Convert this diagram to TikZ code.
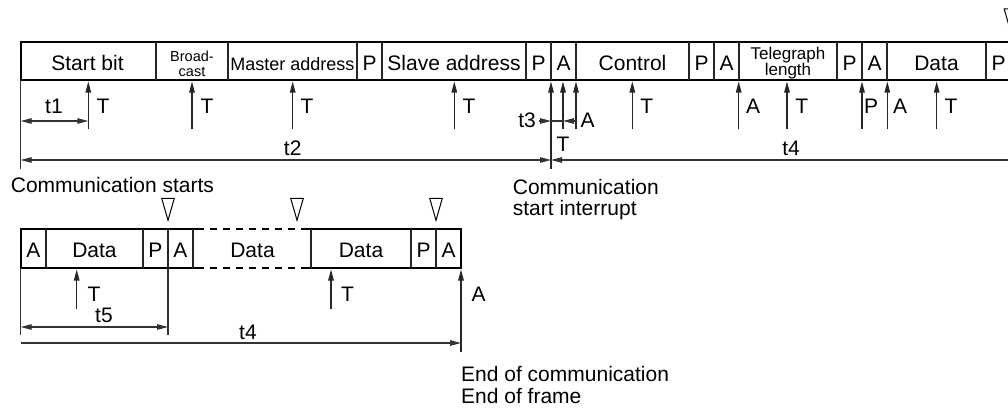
\documentclass[tikz,border=0pt]{standalone}
\usepackage{fontspec}
\setmainfont{Liberation Sans}
\usetikzlibrary{arrows.meta}
\tikzset{
  frameline/.style={line width=2.4pt, black},
  divline/.style={line width=1.1pt, black!85},
  dimline/.style={line width=1.1pt, black!80},
  uparr/.style={line width=1.1pt, black!85, -{Triangle[length=11pt,width=5.5pt]}},
  hd/.style={-{Triangle[length=11pt,width=5.5pt]}},
  hdboth/.style={{Triangle[length=11pt,width=5.5pt]}-{Triangle[length=11pt,width=5.5pt]}},
  lbl/.style={anchor=base, inner sep=0pt, font=\fontsize{21}{24}\selectfont},
  txt/.style={anchor=base west, inner sep=0pt, font=\fontsize{21}{24}\selectfont},
  tri/.style={draw, line width=1pt, line join=miter}
}
\newcommand\downtri[2]{\draw[tri] (#1-6.3,#2) -- (#1+6.3,#2) -- (#1,#2+22) -- cycle;}
\begin{document}
\begin{tikzpicture}[x=1pt,y=-1pt]
\useasboundingbox (0,0) rectangle (1008,412);
\clip (0,0) rectangle (1008,412);

% ---------- top frame ----------
\draw[frameline] (1030,42) -- (20.7,42) -- (20.7,80) -- (1030,80);
\foreach \x in {156,228,357,382,526,551,576,689,714,739,837,862,887,986}
  \draw[divline] (\x,42) -- (\x,80);
\downtri{1010.5}{9}

\node[lbl] (startbit) at (87.5,70.5) {Start bit};
\node[lbl,font=\fontsize{14.5}{16}\selectfont] (broad) at (192,61) {Broad-};
\node[lbl,font=\fontsize{14.5}{16}\selectfont] (cast) at (192,76) {cast};
\node[lbl,font=\fontsize{18}{20}\selectfont] (master) at (292.5,70.5) {Master address};
\node[lbl] (p1) at (369.5,70.5) {P};
\node[lbl] (slave) at (454,70.5) {Slave address};
\node[lbl] (p2) at (538.5,70.5) {P};
\node[lbl] (a2) at (563.5,70.5) {A};
\node[lbl] (control) at (632.5,70.5) {Control};
\node[lbl] (p3) at (701.5,70.5) {P};
\node[lbl] (a3) at (726.5,70.5) {A};
\node[lbl,font=\fontsize{17}{19}\selectfont] (teleg) at (788,59.5) {Telegraph};
\node[lbl,font=\fontsize{17}{19}\selectfont] (tlen) at (788,75) {length};
\node[lbl] (p4) at (849.5,70.5) {P};
\node[lbl] (a4) at (874.5,70.5) {A};
\node[lbl] (data1) at (936.5,70.5) {Data};
\node[lbl] (p5) at (998.5,70.5) {P};

% arrows under the top frame
\foreach \x/\n/\l/\lx in {88.3/a/T/103, 192/b/T/207, 292.7/c/T/307, 454.3/d/T/469,
    632.3/e/T/646.7, 738.7/f/A/753, 787/g/T/801.7, 862/h/P/871, 887.3/i/A/900, 936.7/j/T/951}{
  \coordinate (tb\n) at (\x,129);
  \coordinate (tt\n) at (\x,81.5);
  \draw[uparr] (tb\n) -- (tt\n);
  \node[lbl] (tl\n) at (\lx,113.3) {\l};
}
\coordinate (tbk) at (563,129);  \coordinate (ttk) at (563,81.5);
\coordinate (tbl) at (576,129);  \coordinate (ttl) at (576,81.5);
\coordinate (tbm) at (551,169);  \coordinate (ttm) at (551,81.5);
\draw[uparr] (tbk) -- (ttk);
\draw[uparr] (tbl) -- (ttl);
\draw[uparr] (tbm) -- (ttm);
\coordinate (l0) at (20.7,80);
\coordinate (l0b) at (20.7,169);
\draw[dimline] (l0) -- (l0b);

% t1
\coordinate (t1a) at (20.7,121);
\coordinate (t1b) at (88.3,121);
\draw[dimline,hdboth] (t1a) -- (t1b);
\node[lbl] (t1) at (54,113.3) {t1};

% t3
\coordinate (t3a) at (539,121);
\coordinate (t3b) at (551,121);
\coordinate (t3c) at (563,121);
\coordinate (t3d) at (573.5,121);
\draw[dimline,hd] (t3a) -- (t3b);
\draw[dimline] (t3b) -- (t3c);
\draw[dimline,hd] (t3d) -- (t3c);
\node[lbl] (t3) at (527,127.3) {t3};
\node[lbl] (a3lbl) at (587.5,127.3) {A};
\node[lbl] (t3t) at (563,151) {T};

% t2 / t4
\coordinate (t2a) at (20.7,160);
\coordinate (t2b) at (551,160);
\coordinate (t4e) at (1030,160);
\draw[dimline,hdboth] (t2a) -- (t2b);
\draw[dimline,hd] (t4e) -- (t2b);
\node[lbl] (t2) at (292.7,155) {t2};
\node[lbl] (t4top) at (791,155) {t4};

\node[txt] (cstart) at (10.7,192) {Communication starts};
\node[txt] (cint1) at (512.7,194) {Communication};
\node[txt] (cint2) at (512.7,215.5) {start interrupt};

% ---------- bottom frame ----------
\draw[frameline] (203.5,229) -- (20.7,229) -- (20.7,268) -- (203.5,268);
\draw[frameline,dash pattern=on 6.5pt off 6.5pt,dash phase=6.5pt] (203.5,229) -- (301,229);
\draw[frameline,dash pattern=on 6.5pt off 6.5pt,dash phase=6.5pt] (203.5,268) -- (301,268);
\draw[frameline] (301,229) -- (461,229) -- (461,268) -- (301,268);
\foreach \x in {46,143,168,193,311,411,436}
  \draw[divline] (\x,229) -- (\x,268);
\downtri{168}{198.3}
\downtri{297}{198.3}
\downtri{436}{198.3}

\node[lbl] (ba1) at (33.3,257) {A};
\node[lbl] (bd1) at (94.5,257) {Data};
\node[lbl] (bp1) at (155.5,257) {P};
\node[lbl] (ba2) at (180.5,257) {A};
\node[lbl] (bd2) at (252.5,257) {Data};
\node[lbl] (bd3) at (361,257) {Data};
\node[lbl] (bp2) at (423.5,257) {P};
\node[lbl] (ba3) at (448.5,257) {A};

\coordinate (bt1b) at (76.7,309);  \coordinate (bt1t) at (76.7,269.5);
\coordinate (bt2b) at (331,309);   \coordinate (bt2t) at (331,269.5);
\coordinate (bt3b) at (461,352);   \coordinate (bt3t) at (461,269.5);
\draw[uparr] (bt1b) -- (bt1t);
\draw[uparr] (bt2b) -- (bt2t);
\draw[uparr] (bt3b) -- (bt3t);
\node[lbl] (btl1) at (94,301) {T};
\node[lbl] (btl2) at (347.5,301) {T};
\node[lbl] (btl3) at (478.5,301) {A};

\coordinate (bl0) at (20.7,268);  \coordinate (bl0b) at (20.7,335);
\coordinate (bl1) at (168,268);   \coordinate (bl1b) at (168,335);
\draw[dimline] (bl0) -- (bl0b);
\draw[dimline] (bl1) -- (bl1b);

\coordinate (t5a) at (20.7,327);
\coordinate (t5b) at (168,327);
\draw[dimline,hdboth] (t5a) -- (t5b);
\node[lbl] (t5) at (104,322) {t5};

\coordinate (t4a) at (20.7,343);
\coordinate (t4b) at (461,343);
\draw[dimline,hd] (t4a) -- (t4b);
\node[lbl] (t4bot) at (248,339) {t4};

\node[txt] (end1) at (461,381.5) {End of communication};
\node[txt] (end2) at (461,403) {End of frame};
\end{tikzpicture}
\end{document}
